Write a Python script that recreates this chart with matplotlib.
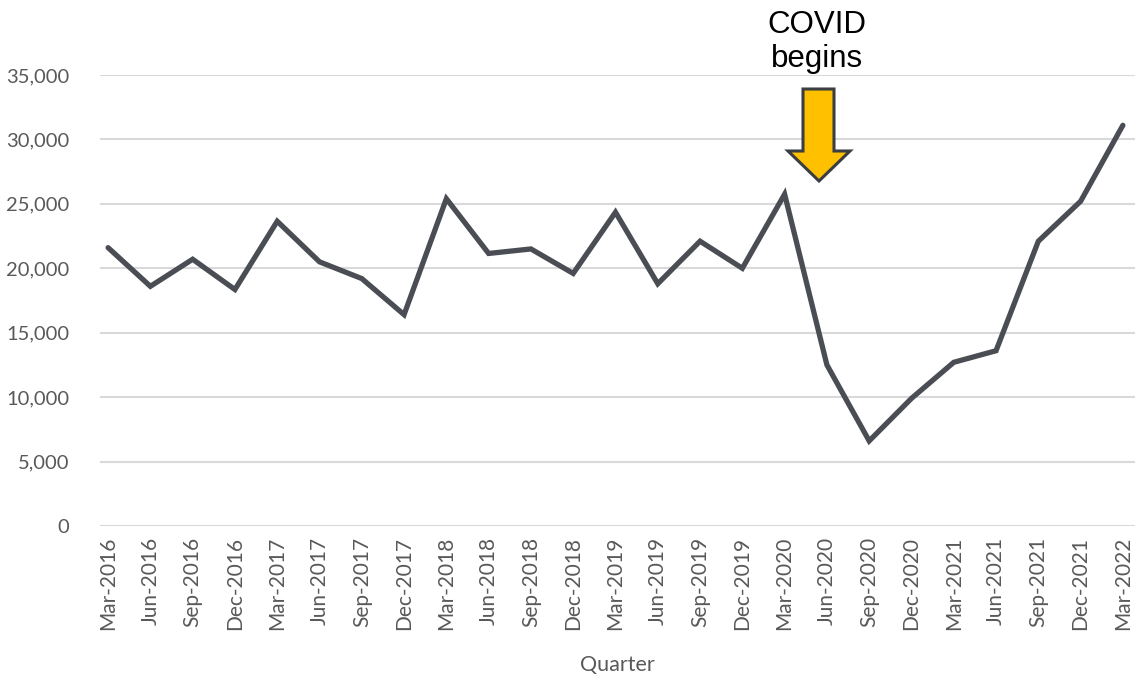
import matplotlib.pyplot as plt
from matplotlib.patches import Polygon

# quarterly values
quarters = ['Mar-2016', 'Jun-2016', 'Sep-2016', 'Dec-2016',
            'Mar-2017', 'Jun-2017', 'Sep-2017', 'Dec-2017',
            'Mar-2018', 'Jun-2018', 'Sep-2018', 'Dec-2018',
            'Mar-2019', 'Jun-2019', 'Sep-2019', 'Dec-2019',
            'Mar-2020', 'Jun-2020', 'Sep-2020', 'Dec-2020',
            'Mar-2021', 'Jun-2021', 'Sep-2021', 'Dec-2021',
            'Mar-2022']
values = [21600, 18600, 20700, 18350,
          23650, 20500, 19200, 16400,
          25400, 21150, 21500, 19600,
          24350, 18800, 22100, 20000,
          25750, 12500, 6600, 9900,
          12700, 13600, 22100, 25200,
          31100]
yticks = [0, 5000, 10000, 15000, 20000, 25000, 30000, 35000]

plt.rcParams['font.family'] = ['Lato', 'DejaVu Sans']

fig = plt.figure(figsize=(11.37, 6.76), dpi=100)
ax = fig.add_axes([0.088, 0.222, 0.910, 0.667])

x = list(range(len(quarters)))
ax.plot(x, values, color='#4a4e54', linewidth=3.8, solid_capstyle='round',
        solid_joinstyle='miter', zorder=3)

ax.set_ylim(0, 35000)
ax.set_xlim(-0.19, len(quarters) - 0.72)
ax.set_yticks(yticks)
ax.set_yticklabels([f'{v:,}' for v in yticks])
ax.set_xticks(x)
ax.set_xticklabels(quarters, rotation=90)
ax.tick_params(axis='both', length=0, labelsize=14.5, colors='#595959')
ax.tick_params(axis='x', labelsize=15)
ax.tick_params(axis='y', pad=22)
ax.tick_params(axis='x', pad=8)
ax.grid(axis='y', color='#d9d9d9', linewidth=1.5)
ax.set_axisbelow(True)
for s in ax.spines.values():
    s.set_visible(False)

ax.set_xlabel('Quarter', fontsize=15.5, color='#595959', labelpad=18)

# COVID annotation arrow (drawn in figure pixel coordinates)
W, H = 1137, 676
pts = [(803, 89), (834, 89), (834, 151), (850, 151), (819, 181),
       (788, 151), (803, 151)]
arrow = Polygon([(px / W, 1 - py / H) for px, py in pts], closed=True,
                transform=fig.transFigure, facecolor='#ffc000',
                edgecolor='#3a3d42', linewidth=2.2, joinstyle='miter')
fig.patches.append(arrow)
fig.text(817 / W, 1 - 42 / H, 'COVID\nbegins', ha='center', va='center',
         fontsize=22.5, family=['Liberation Sans', 'DejaVu Sans'],
         color='black', linespacing=1.18)

fig.savefig('out.png', dpi=100)
